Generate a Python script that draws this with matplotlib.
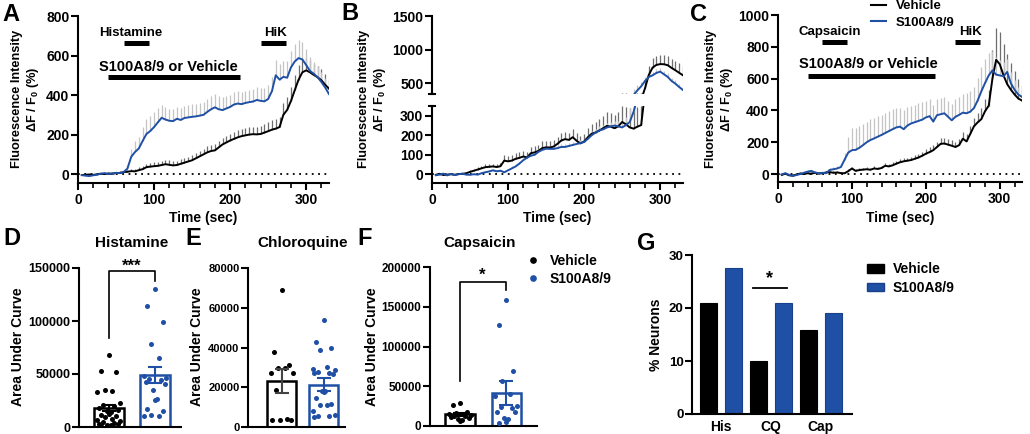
import numpy as np
import matplotlib
matplotlib.use("Agg")
import matplotlib.pyplot as plt
from matplotlib.transforms import blended_transform_factory
from matplotlib.lines import Line2D
from matplotlib.patches import Patch

plt.rcParams.update({
    "font.family": ["Liberation Sans", "DejaVu Sans"],
    "font.weight": "bold",
    "axes.labelweight": "bold",
    "font.size": 10,
    "mathtext.fontset": "custom",
    "mathtext.rm": "Liberation Sans:bold",
    "mathtext.bf": "Liberation Sans:bold",
    "axes.linewidth": 1.5,
    "xtick.major.width": 1.5,
    "ytick.major.width": 1.5,
    "xtick.minor.width": 1.2,
    "xtick.major.size": 5,
    "ytick.major.size": 5,
    "xtick.minor.size": 3.5,
    "xtick.major.pad": 2.5,
    "ytick.major.pad": 1.2,
})

BLUE = "#1f50a5"
GRAY_V = "#6e6e6e"
GRAY_S = "#c4c4c4"

# ---- calcium imaging traces (sampled every 5 s) ----
TIME = list(range(5, 335, 5))

A_veh = [-5, -3, -2, -4, -1, 2, 0, 3, 2, 5,
         6, 10, 12, 15, 14, 20, 25, 35, 38, 40,
         42, 46, 50, 47, 44, 46, 52, 58, 64, 70,
         80, 90, 100, 110, 117, 120, 135, 150, 160, 170,
         178, 186, 192, 196, 200, 202, 201, 203, 210, 217,
         225, 230, 238, 300, 325, 370, 425, 478, 515, 525,
         515, 502, 490, 475, 452, 432]
A_veh_sem = [5, 5, 5, 5, 5, 6, 6, 6, 7, 8,
             8, 10, 10, 12, 12, 14, 15, 18, 18, 20,
             20, 22, 22, 22, 20, 22, 22, 24, 25, 26,
             26, 28, 28, 30, 30, 30, 32, 32, 33, 34,
             34, 35, 35, 36, 36, 38, 38, 40, 42, 45,
             48, 50, 52, 60, 65, 70, 75, 75, 70, 65,
             60, 55, 55, 55, 52, 50]
A_s100 = [-5, -8, -10, -6, -3, 2, 5, 0, 3, 6,
          5, 10, 28, 88, 112, 130, 168, 203, 218, 238,
          262, 285, 276, 270, 268, 280, 274, 284, 287, 290,
          292, 296, 300, 315, 328, 338, 328, 324, 332, 340,
          352, 357, 354, 360, 364, 367, 375, 371, 368, 380,
          420, 500, 478, 492, 488, 540, 570, 587, 580, 552,
          522, 508, 490, 466, 438, 405]
A_s100_sem = [6, 6, 6, 6, 6, 6, 6, 6, 6, 8,
              8, 10, 20, 40, 55, 60, 70, 75, 75, 78,
              70, 65, 62, 60, 60, 62, 62, 62, 64, 64,
              64, 65, 66, 66, 66, 66, 66, 65, 64, 62,
              62, 62, 62, 62, 62, 64, 65, 66, 68, 70,
              72, 75, 78, 80, 82, 85, 88, 90, 88, 80,
              70, 60, 55, 52, 50, 48]

B_veh = [-3, 2, -4, -2, 0, -3, 1, 2, 5, 12,
         18, 24, 30, 36, 38, 40, 37, 41, 70, 66,
         70, 79, 84, 91, 86, 108, 112, 120, 134, 138,
         137, 142, 156, 173, 180, 176, 190, 172, 158, 168,
         190, 208, 214, 224, 236, 248, 244, 236, 246, 268,
         256, 240, 234, 244, 252, 420, 620, 730, 770, 782,
         780, 765, 725, 690, 652, 615]
B_veh_sem = [5, 5, 5, 5, 5, 5, 6, 6, 8, 10,
             10, 12, 12, 14, 14, 15, 15, 16, 30, 30,
             30, 30, 30, 30, 30, 32, 32, 32, 34, 34,
             35, 35, 36, 36, 38, 38, 40, 40, 40, 40,
             45, 50, 55, 60, 65, 70, 70, 70, 75, 80,
             90, 100, 110, 100, 100, 120, 130, 140, 140, 140,
             140, 140, 140, 140, 140, 140]
B_s100 = [-5, -2, 3, -6, 2, -4, 0, 3, -2, -3,
          0, -2, 5, 10, 14, 20, 15, 18, 10, 20,
          30, 40, 55, 72, 85, 95, 100, 115, 125, 131,
          130, 130, 134, 140, 140, 145, 150, 155, 160, 165,
          182, 200, 214, 225, 230, 240, 245, 250, 245, 240,
          252, 268, 320, 390, 450, 530, 590, 615, 650, 670,
          630, 590, 530, 490, 440, 395]
B_s100_sem = [4, 4, 4, 4, 4, 4, 4, 4, 4, 4,
              5, 5, 5, 6, 6, 6, 6, 6, 8, 8,
              10, 10, 10, 12, 12, 12, 12, 12, 14, 14,
              14, 14, 15, 15, 15, 16, 16, 16, 18, 18,
              18, 20, 20, 20, 22, 22, 22, 24, 26, 28,
              40, 70, 90, 80, 60, 60, 60, 55, 55, 55,
              55, 55, 50, 50, 50, 50]

C_veh = [-5, 2, -8, -10, -3, 3, 0, 5, 2, 8,
         3, 5, 10, 12, 8, 10, 6, 5, 18, 35,
         20, 25, 28, 30, 27, 35, 32, 38, 52, 48,
         55, 65, 74, 80, 84, 88, 96, 104, 115, 128,
         138, 150, 170, 190, 192, 185, 178, 170, 182, 222,
         205, 252, 300, 325, 345, 395, 430, 600, 718, 690,
         620, 565, 530, 500, 475, 462]
C_veh_sem = [8, 8, 8, 8, 8, 8, 8, 8, 8, 8,
             8, 8, 10, 10, 10, 10, 10, 10, 12, 12,
             12, 12, 12, 14, 14, 14, 15, 15, 16, 16,
             18, 18, 18, 20, 20, 20, 22, 24, 26, 28,
             30, 30, 32, 34, 34, 34, 34, 34, 36, 40,
             45, 50, 55, 60, 70, 80, 100, 180, 200, 200,
             200, 190, 170, 150, 120, 100]
C_s100 = [-2, 5, -5, -12, -6, 0, 8, 15, 20, 10,
          5, 8, 5, 26, 30, 35, 44, 90, 135, 150,
          152, 165, 182, 200, 214, 224, 235, 246, 258, 270,
          282, 293, 298, 282, 305, 318, 326, 334, 342, 356,
          364, 330, 370, 376, 382, 360, 338, 360, 372, 386,
          382, 392, 415, 462, 520, 572, 620, 652, 625, 620,
          615, 642, 570, 530, 500, 485]
C_s100_sem = [8, 8, 8, 8, 8, 8, 8, 8, 8, 8,
              8, 8, 8, 10, 12, 14, 16, 40, 100, 140,
              140, 140, 135, 130, 130, 130, 128, 125, 125, 125,
              125, 122, 120, 118, 115, 112, 110, 110, 108, 105,
              105, 105, 105, 100, 100, 100, 105, 110, 115, 120,
              125, 130, 135, 140, 150, 150, 140, 120, 110, 100,
              90, 80, 70, 60, 50, 45]

# stimulus windows (sec)
AGONIST_ON = [60, 93]
HIK_ON = [240, 273]
S100_ON = [40, 213]

# ---- area under curve ----
D_veh = [68000, 53000, 52000, 35000, 34000, 33000, 23000, 21000, 20000, 18000,
         16000, 15000, 14000, 12000, 11000, 10000, 9000, 8000, 7000, 6000,
         5000, 4000, 3000, 2500, 2000, 1500, 1000, 500]
D_s100 = [130000, 114000, 99000, 78000, 65000, 48000, 46000, 45000, 44000, 42000,
          41000, 35000, 26000, 25500, 17000, 15000, 11000, 10500, 10000]
D_mean = [18000, 49000]
D_sem = [3000, 7500]

E_veh = [69000, 37500, 31000, 29500, 29500, 27000, 27000, 18500, 4000, 3500, 3500, 3700]
E_s100 = [54000, 43000, 40000, 38500, 30000, 29000, 28500, 27500, 27000, 27000,
          26500, 18000, 18000, 17500, 14500, 11500, 11000, 11000, 8000, 6000,
          5500, 5500, 5000]
E_mean = [23000, 21300]
E_sem = [6000, 3300]

F_veh = [29000, 27000, 17000, 16000, 15000, 14500, 14000, 13000, 12000, 11000,
         10000, 9000, 8000, 6000]
F_s100 = [158000, 127000, 69000, 57000, 40000, 38000, 25000, 24000, 23000, 18000,
          17000, 10000, 9000, 5000, 4000]
F_mean = [14500, 42000]
F_sem = [1500, 15000]

# ---- percent responding neurons ----
G_groups = ["His", "CQ", "Cap"]
G_veh = [21, 10, 15.8]
G_s100 = [27.5, 21, 19]

W, H = 1030, 434
fig = plt.figure(figsize=(W / 100, H / 100), dpi=100)


def box(l, t, r, b):
    return [l / W, 1 - b / H, (r - l) / W, (b - t) / H]


def fy(py):
    return 1 - py / H


def clean(ax):
    ax.spines["top"].set_visible(False)
    ax.spines["right"].set_visible(False)


def draw_traces(ax, veh, veh_sem, s1, s1_sem):
    veh, veh_sem, s1, s1_sem = map(np.array, (veh, veh_sem, s1, s1_sem))
    ax.vlines(TIME, veh, veh + veh_sem, color=GRAY_V, lw=0.9, zorder=1)
    ax.vlines(TIME, s1, s1 + s1_sem, color=GRAY_S, lw=0.9, zorder=1)
    ax.plot(TIME, veh, color="black", lw=1.4, zorder=3)
    ax.plot(TIME, s1, color=BLUE, lw=1.4, zorder=4)


def time_axis(ax):
    ax.set_xlim(0, 330)
    ax.set_xticks([0, 100, 200, 300])
    ax.set_xticks(np.arange(20, 330, 20), minor=True)
    ax.axhline(0, color="black", lw=1.3, ls=(0, (1, 2.5)), zorder=2)
    ax.tick_params(labelsize=10)
    ax.set_xlabel("Time (sec)", fontsize=10, va="center")
    ax.xaxis.set_label_coords(0.5, fy(218),
                              transform=blended_transform_factory(ax.transAxes, fig.transFigure))


def stimulus(ax, name, y_txt, y_bar, y_txt2, y_bar2):
    tr = blended_transform_factory(ax.transData, fig.transFigure)
    kw = dict(color="black", lw=3.6, solid_capstyle="butt", transform=tr, clip_on=False)
    ax.plot(AGONIST_ON, [fy(y_bar)] * 2, **kw)
    ax.plot(HIK_ON, [fy(y_bar)] * 2, **kw)
    ax.plot(S100_ON, [fy(y_bar2)] * 2, **kw)
    ax.text(28, fy(y_txt), name, transform=tr, fontsize=9.5, va="center", ha="left")
    ax.text(245, fy(y_txt), "HiK", transform=tr, fontsize=9.5, va="center", ha="left")
    ax.text(28, fy(y_txt2), "S100A8/9 or Vehicle", transform=tr, fontsize=10.5,
            va="center", ha="left")


def trace_ylabel(x_px):
    fig.text(x_px / W, fy(99), "Fluorescence Intensity\n\u0394F / F$_\\mathbf{0}$ (%)",
             rotation=90, ha="center", va="center", fontsize=9.2, linespacing=1.1)


# ---- A ----
axA = fig.add_axes(box(78, 16, 329, 183))
clean(axA)
draw_traces(axA, A_veh, A_veh_sem, A_s100, A_s100_sem)
axA.set_ylim(-45, 800)
axA.set_yticks([0, 200, 400, 600, 800])
time_axis(axA)
stimulus(axA, "Histamine", 33, 43, 67, 77)
trace_ylabel(26)

# ---- B (broken axis) ----
axBb = fig.add_axes(box(432, 106, 683, 183))
axBt = fig.add_axes(box(432, 16, 683, 94))
for ax in (axBb, axBt):
    clean(ax)
    draw_traces(ax, B_veh, B_veh_sem, B_s100, B_s100_sem)
axBb.set_ylim(-45, 350)
axBb.set_yticks([0, 100, 200, 300])
time_axis(axBb)
axBt.set_xlim(0, 330)
axBt.set_ylim(336, 1500)
axBt.set_yticks([500, 1000, 1500])
axBt.tick_params(labelsize=10)
axBt.spines["bottom"].set_visible(False)
axBt.set_xticks([])
axBt.plot([-0.012, 0.012], [0, 0], transform=axBt.transAxes, color="black", lw=1.5, clip_on=False)
axBb.plot([-0.012, 0.012], [1, 1], transform=axBb.transAxes, color="black", lw=1.5, clip_on=False)
stimulus(axBb, "Chloroquine", 33, 43, 67, 77)
trace_ylabel(373)

# ---- C ----
axC = fig.add_axes(box(778, 15, 1022, 182))
clean(axC)
draw_traces(axC, C_veh, C_veh_sem, C_s100, C_s100_sem)
axC.set_ylim(-50, 1000)
axC.set_yticks([0, 200, 400, 600, 800, 1000])
time_axis(axC)
stimulus(axC, "Capsaicin", 32, 42, 64, 76)
trace_ylabel(720)
axC.legend(handles=[Line2D([], [], color="black", lw=1.5), Line2D([], [], color=BLUE, lw=1.5)],
           labels=["Vehicle", "S100A8/9"], loc="upper left", frameon=False,
           bbox_to_anchor=(871 / W, fy(0)), bbox_transform=fig.transFigure,
           fontsize=9.5, handlelength=1.15, handletextpad=0.7, labelspacing=0.35,
           borderpad=0, borderaxespad=0)

# ---- D, E, F (AUC) ----
def jitter(n, width):
    pattern = [0, -0.6, 0.6, -0.3, 0.3, -0.9, 0.9, -0.45, 0.45, -0.75, 0.75, -0.15, 0.15]
    return np.array([pattern[i % len(pattern)] * width for i in range(n)])


def auc_panel(ax, veh, s1, means, sems, bw, xlim, ymax, yticks, tick_fs, veh_err="black"):
    clean(ax)
    ax.bar([0, 1], means, bw, color="white", edgecolor=["black", BLUE], lw=1.8, zorder=1)
    ax.errorbar([0], [means[0]], yerr=[sems[0]], color=veh_err, lw=1.5, capsize=5,
                capthick=1.5, zorder=4)
    ax.errorbar([1], [means[1]], yerr=[sems[1]], color=BLUE, lw=1.5, capsize=5,
                capthick=1.5, zorder=4)
    ax.scatter(jitter(len(veh), bw * 0.42), veh, s=13, color="black", zorder=3, lw=0)
    ax.scatter(1 + jitter(len(s1), bw * 0.42), s1, s=13, color=BLUE, zorder=3, lw=0)
    ax.set_xlim(*xlim)
    ax.set_ylim(0, ymax)
    ax.set_yticks(yticks)
    ax.set_xticks([])
    ax.tick_params(axis="y", labelsize=tick_fs)
    ax.set_ylabel("Area Under Curve", fontsize=10, va="center")


axD = fig.add_axes(box(79, 268, 181, 427))
auc_panel(axD, D_veh, D_s100, D_mean, D_sem, 0.65, (-0.64, 1.56), 150000,
          [0, 50000, 100000, 150000], 9)
axD.yaxis.set_label_coords(18 / W, fy(347), transform=fig.transFigure)
axD.plot([0, 0, 1, 1], [84000, 147000, 147000, 138000], color="black", lw=1.2, clip_on=False)
axD.text(0.49, 152000, "***", ha="center", va="center", fontsize=12, clip_on=False)

axE = fig.add_axes(box(248, 268, 345, 427))
auc_panel(axE, E_veh, E_s100, E_mean, E_sem, 0.69, (-0.8, 1.51), 80000,
          [0, 20000, 40000, 60000, 80000], 8, veh_err="#444444")
axE.yaxis.set_label_coords(197 / W, fy(347), transform=fig.transFigure)

axF = fig.add_axes(box(430, 267, 537, 426))
auc_panel(axF, F_veh, F_s100, F_mean, F_sem, 0.63, (-0.65, 1.67), 200000,
          [0, 50000, 100000, 150000, 200000], 8.5)
axF.yaxis.set_label_coords(372 / W, fy(347), transform=fig.transFigure)
axF.plot([0, 0, 1, 1], [56000, 181000, 181000, 171000], color="black", lw=1.2, clip_on=False)
axF.text(0.48, 190000, "*", ha="center", va="center", fontsize=12, clip_on=False)
axF.legend(handles=[Line2D([], [], marker="o", ls="", color="black", markersize=3.8),
                    Line2D([], [], marker="o", ls="", color=BLUE, markersize=3.8)],
           labels=["Vehicle", "S100A8/9"], loc="upper left", frameon=False,
           bbox_to_anchor=(527 / W, fy(254)), bbox_transform=fig.transFigure,
           fontsize=10, handlelength=0.9, handletextpad=0.75, labelspacing=0.3,
           borderpad=0, borderaxespad=0)

fig.text(132 / W, fy(243), "Histamine", ha="center", va="center", fontsize=11)
fig.text(303 / W, fy(243), "Chloroquine", ha="center", va="center", fontsize=11)
fig.text(480 / W, fy(243), "Capsaicin", ha="center", va="center", fontsize=11)

# ---- G ----
axG = fig.add_axes(box(692, 255, 852, 414))
clean(axG)
gx = np.arange(len(G_groups))
axG.bar(gx - 0.25, G_veh, 0.34, color="black", edgecolor="black", lw=0.8)
axG.bar(gx + 0.25, G_s100, 0.34, color=BLUE, edgecolor="#173f8a", lw=0.8)
axG.set_xlim(-0.58, 2.63)
axG.set_ylim(0, 30)
axG.set_yticks([0, 10, 20, 30])
axG.set_xticks(gx)
axG.set_xticklabels(G_groups, fontsize=10)
axG.tick_params(axis="x", length=0, pad=4)
axG.tick_params(axis="y", labelsize=9.5)
axG.set_ylabel("% Neurons", fontsize=10, va="center")
axG.yaxis.set_label_coords(656 / W, fy(335), transform=fig.transFigure)
axG.plot([0.64, 1.32], [23.8, 23.8], color="black", lw=1.3)
axG.text(0.98, 25.6, "*", ha="center", va="center", fontsize=13)
axG.legend(handles=[Patch(color="black"), Patch(facecolor=BLUE, edgecolor="#173f8a")],
           labels=["Vehicle", "S100A8/9"], loc="upper left", frameon=False,
           bbox_to_anchor=(867 / W, fy(262)), bbox_transform=fig.transFigure,
           fontsize=10, handlelength=1.25, handleheight=0.6, handletextpad=0.6,
           labelspacing=0.35, borderpad=0, borderaxespad=0)

# ---- panel letters ----
for letter, xp, yp in [("A", 2, 21), ("B", 341, 20), ("C", 690, 21), ("D", 3, 245),
                       ("E", 185, 245), ("F", 357, 245), ("G", 637, 250)]:
    fig.text(xp / W, fy(yp), letter, fontsize=17, fontweight="bold", va="baseline", ha="left")

fig.savefig("out.png", dpi=100)
